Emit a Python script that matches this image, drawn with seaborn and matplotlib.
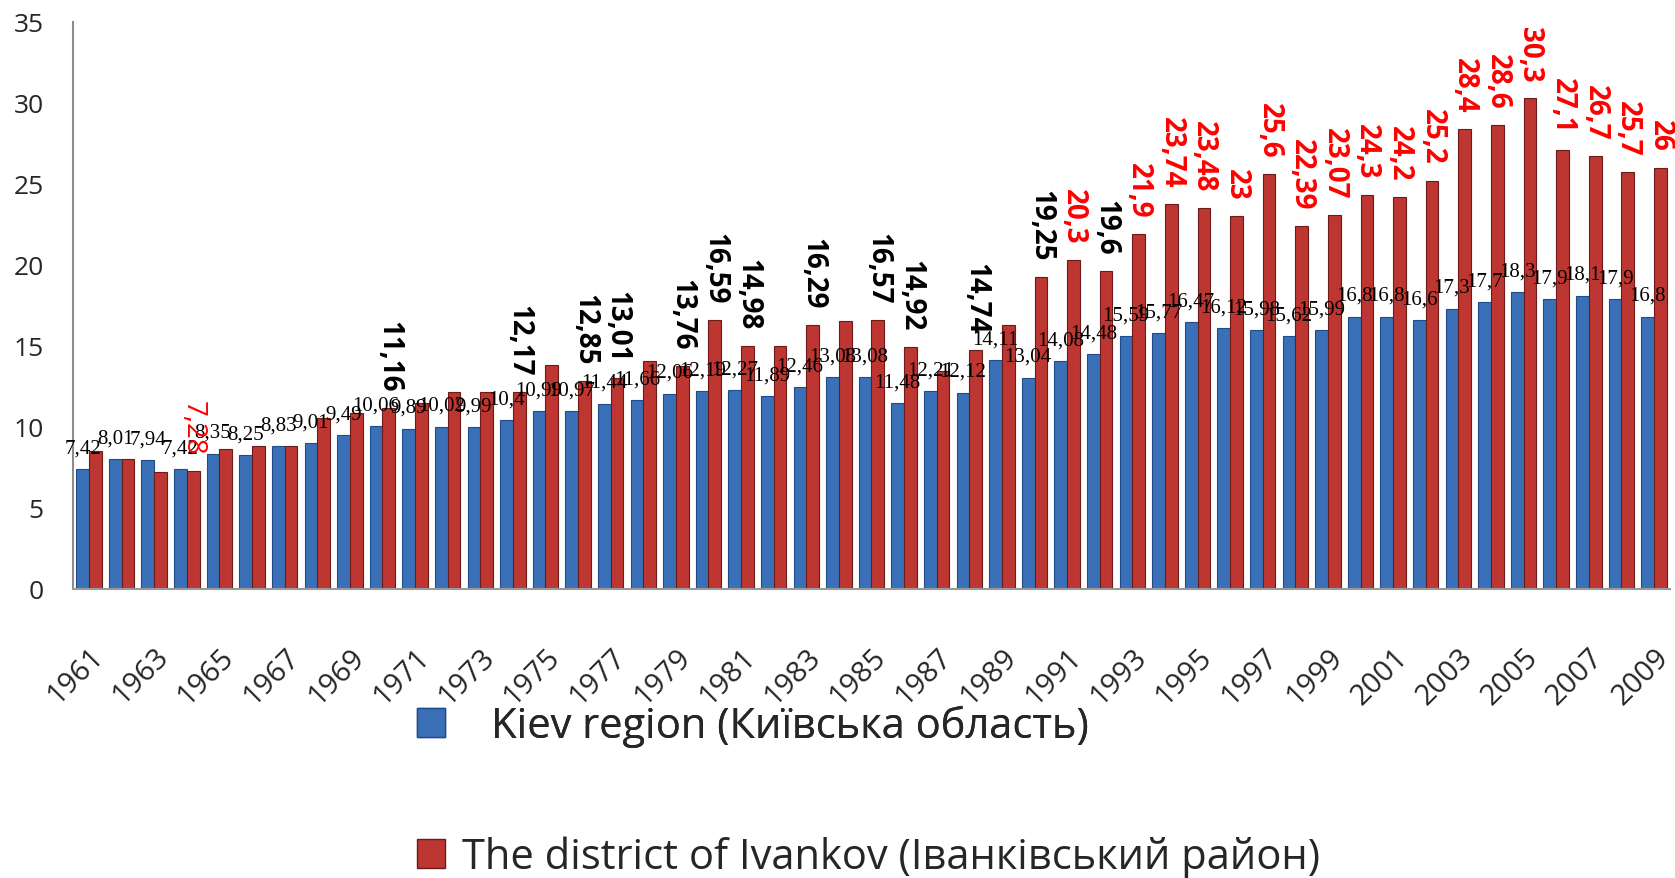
import matplotlib
matplotlib.use("Agg")
import matplotlib.pyplot as plt
from matplotlib.patches import Patch
import pandas as pd
import seaborn as sns

# years 1961..2009
years = [str(y) for y in range(1961, 2010)]

# Kiev region (blue bars)
kiev = [7.42, 8.01, 7.94, 7.42, 8.35, 8.25, 8.83, 9.01, 9.49, 10.06,
        9.89, 10.02, 9.99, 10.4, 10.99, 10.97, 11.44, 11.66, 12.06, 12.19,
        12.27, 11.89, 12.46, 13.08, 13.08, 11.48, 12.21, 12.12, 14.11, 13.04,
        14.08, 14.48, 15.59, 15.77, 16.47, 16.12, 15.98, 15.62, 15.99, 16.8,
        16.8, 16.6, 17.3, 17.7, 18.3, 17.9, 18.1, 17.9, 16.8]

# district of Ivankov (red bars)
ivankov = [8.53, 8.01, 7.2, 7.28, 8.62, 8.8, 8.83, 10.53, 10.86, 11.16,
           11.47, 12.17, 12.17, 12.17, 13.82, 12.85, 13.01, 14.05, 13.76, 16.59,
           14.98, 14.99, 16.29, 16.53, 16.57, 14.92, 13.47, 14.74, 16.29, 19.25,
           20.3, 19.6, 21.9, 23.74, 23.48, 23.0, 25.6, 22.39, 23.07, 24.3,
           24.2, 25.2, 28.4, 28.6, 30.3, 27.1, 26.7, 25.7, 26.0]

# which red bars carry a label, and in which colour ('' = no label)
ivankov_label = ['', '', '', 'red', '', '', '', '', '', 'black',
                 '', '', '', 'black', '', 'black', 'black', '', 'black', 'black',
                 'black', '', 'black', '', 'black', 'black', '', 'black', '', 'black',
                 'red', 'black', 'red', 'red', 'red', 'red', 'red', 'red', 'red', 'red',
                 'red', 'red', 'red', 'red', 'red', 'red', 'red', 'red', 'red']

series_names = ["Kiev region (Київська область)",
                "The district of Ivankov (Іванківський район)"]

blue = "#3A70B8"
red = "#BD3631"

df = pd.DataFrame({
    "year": years * 2,
    "value": kiev + ivankov,
    "region": [series_names[0]] * len(years) + [series_names[1]] * len(years),
})

sns.set_style("white")
plt.rcParams["font.family"] = ["Open Sans", "DejaVu Sans"]

fig = plt.figure(figsize=(16.75, 8.79), dpi=100)
ax = fig.add_axes([72.7 / 1675, 1 - 590 / 879, 1597.6 / 1675, 567.3 / 879])

sns.barplot(data=df, x="year", y="value", hue="region", palette=[blue, red],
            width=0.78, saturation=1, errorbar=None, legend=False, ax=ax,
            order=years, hue_order=series_names, linewidth=0.8)
for bar in ax.containers[0]:
    bar.set_edgecolor("#1F4C8A")
for bar in ax.containers[1]:
    bar.set_edgecolor("#6E1A18")

ax.set_xlim(-0.5, len(years) - 0.5)
ax.set_ylim(0, 35)
ax.set_yticks(range(0, 36, 5))
ax.set_xticks(range(0, len(years), 2))
ax.set_xticklabels(years[::2], rotation=45, ha="right", va="top",
                   rotation_mode="anchor")
ax.tick_params(axis="y", length=0, pad=21, labelsize=19)
ax.tick_params(axis="x", length=0, pad=38, labelsize=21)
ax.set_xlabel("")
ax.set_ylabel("")
sns.despine(ax=ax, top=True, right=True)
ax.spines["left"].set_color("#8C8C8C")
ax.spines["left"].set_linewidth(1.5)
ax.spines["bottom"].set_color("#9A9A9A")
ax.spines["bottom"].set_linewidth(1.5)

# blue labels (serif, small)
for bar, v in zip(ax.containers[0], kiev):
    cx = bar.get_x() + bar.get_width() / 2
    ax.annotate(f"{v:g}".replace(".", ","), xy=(cx, bar.get_height()),
                xytext=(0, 12), textcoords="offset points", ha="center",
                va="baseline", fontsize=15, family="Liberation Serif",
                color="black")

# red labels (rotated, bold)
for bar, v, c in zip(ax.containers[1], ivankov, ivankov_label):
    if not c:
        continue
    cx = bar.get_x() + bar.get_width() / 2
    ax.annotate(f"{v:g}".replace(".", ","), xy=(cx, bar.get_height()),
                xytext=(0, 12), textcoords="offset points", ha="center",
                va="bottom", rotation=270, fontsize=20,
                fontweight="bold" if v > 8 else "normal",
                color="#FF0000" if c == "red" else "black")

# legend, two rows far apart
leg1 = fig.legend(handles=[Patch(facecolor=blue, edgecolor="#1F4C8A")],
                  labels=[series_names[0]], loc="center left",
                  bbox_to_anchor=(417 / 1675, 1 - 727 / 879), frameon=False,
                  fontsize=30, handlelength=0.67, handleheight=0.67,
                  handletextpad=1.1, borderpad=0, borderaxespad=0)
fig.add_artist(leg1)
fig.legend(handles=[Patch(facecolor=red, edgecolor="#6E1A18")],
           labels=[series_names[1]], loc="center left",
           bbox_to_anchor=(417 / 1675, 1 - 858 / 879), frameon=False,
           fontsize=30, handlelength=0.67, handleheight=0.67,
           handletextpad=0.41, borderpad=0, borderaxespad=0)

fig.savefig("out.png", dpi=100)
